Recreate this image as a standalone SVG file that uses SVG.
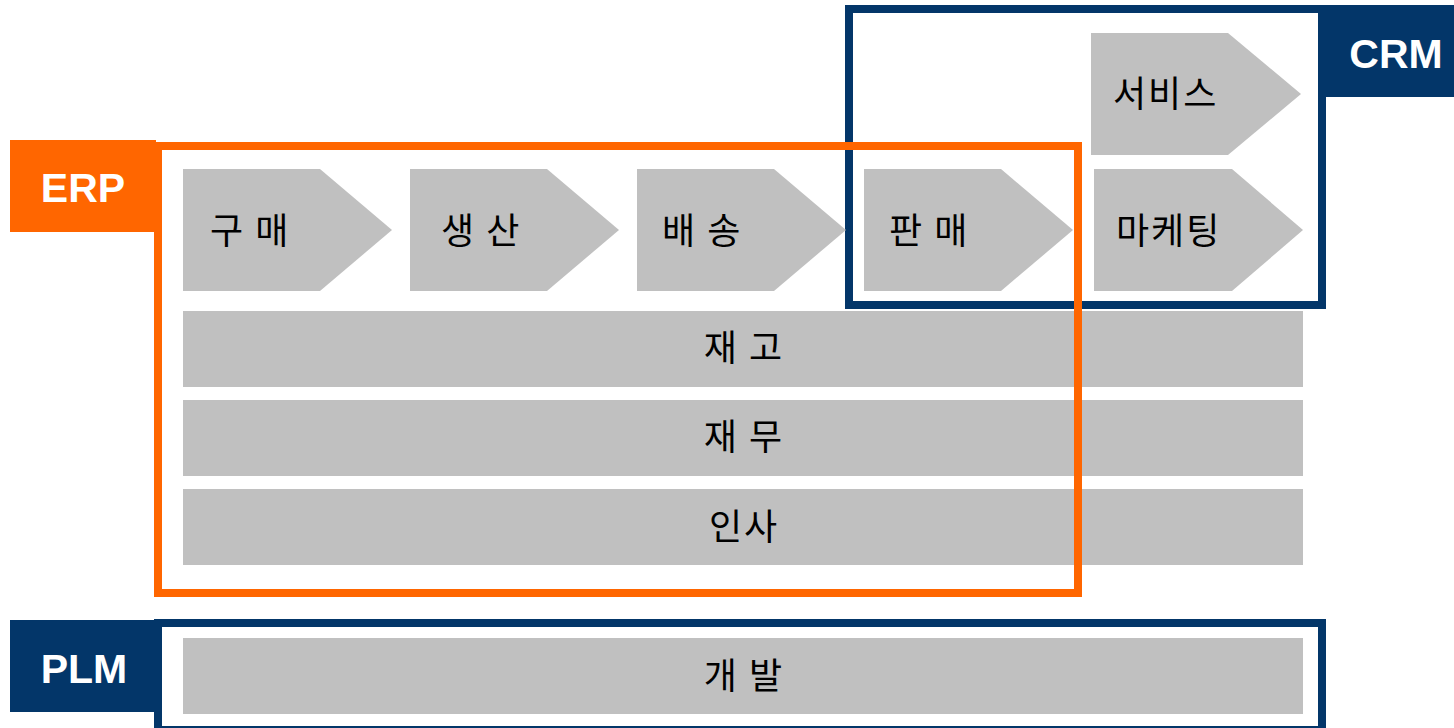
<svg xmlns="http://www.w3.org/2000/svg" width="1454" height="728" viewBox="0 0 1454 728">
<style>
.box{fill:#C0C0C0}
.kt{font-family:"Noto Sans CJK KR","Noto Sans",sans-serif;font-size:36px;letter-spacing:2px;fill:#000}
.lbl{font-family:"Liberation Sans",Arial,sans-serif;font-weight:bold;font-size:41px;fill:#fff;text-anchor:middle}
.fo{fill:none;stroke:#FF6600;stroke-width:8}
.fb{fill:none;stroke:#033669;stroke-width:8}
</style>
<rect width="1454" height="728" fill="#fff"/>
<g id="frames">
<rect id="crm-frame" class="fb" x="849" y="9" width="473" height="296"/>
<rect id="plm-frame" class="fb" x="158" y="623" width="1164" height="107"/>
</g>
<g id="purchase"><polygon class="box" points="183,169 320,169 392,230 320,291 183,291"/><text class="kt" x="210" y="244">구 매</text></g>
<g id="production"><polygon class="box" points="410,169 547,169 619,230 547,291 410,291"/><text class="kt" x="441" y="244">생 산</text></g>
<g id="delivery"><polygon class="box" points="637,169 774,169 846,230 774,291 637,291"/><text class="kt" x="662" y="244">배 송</text></g>
<g id="sales"><polygon class="box" points="864,169 1001,169 1073,230 1001,291 864,291"/><text class="kt" x="889" y="244">판 매</text></g>
<g id="marketing"><polygon class="box" points="1094,169 1232,169 1303,230 1232,291 1094,291"/><text class="kt" x="1116" y="244">마케팅</text></g>
<g id="service"><polygon class="box" points="1091,33 1228,33 1301,94 1228,155 1091,155"/><text class="kt" x="1113" y="107">서비스</text></g>
<g id="inventory"><rect class="box" x="183" y="311" width="1120" height="76"/><text class="kt" x="744" y="361" text-anchor="middle">재 고</text></g>
<g id="finance"><rect class="box" x="183" y="400" width="1120" height="76"/><text class="kt" x="744" y="450" text-anchor="middle">재 무</text></g>
<g id="hr"><rect class="box" x="183" y="489" width="1120" height="76"/><text class="kt" x="744" y="540" text-anchor="middle">인사</text></g>
<g id="development"><rect class="box" x="183" y="638" width="1120" height="76"/><text class="kt" x="744" y="689" text-anchor="middle">개 발</text></g>
<g id="erp-frame"><rect class="fo" x="158" y="146" width="920" height="447"/></g>
<g id="erp-label"><rect x="10" y="140" width="146" height="92" fill="#FF6600"/><text class="lbl" x="83" y="202">ERP</text></g>
<g id="crm-label"><rect x="1326" y="5" width="128" height="92" fill="#033669"/><text class="lbl" x="1396" y="68">CRM</text></g>
<g id="plm-label"><rect x="10" y="620" width="148" height="92" fill="#033669"/><text class="lbl" x="84" y="683">PLM</text></g>
</svg>
